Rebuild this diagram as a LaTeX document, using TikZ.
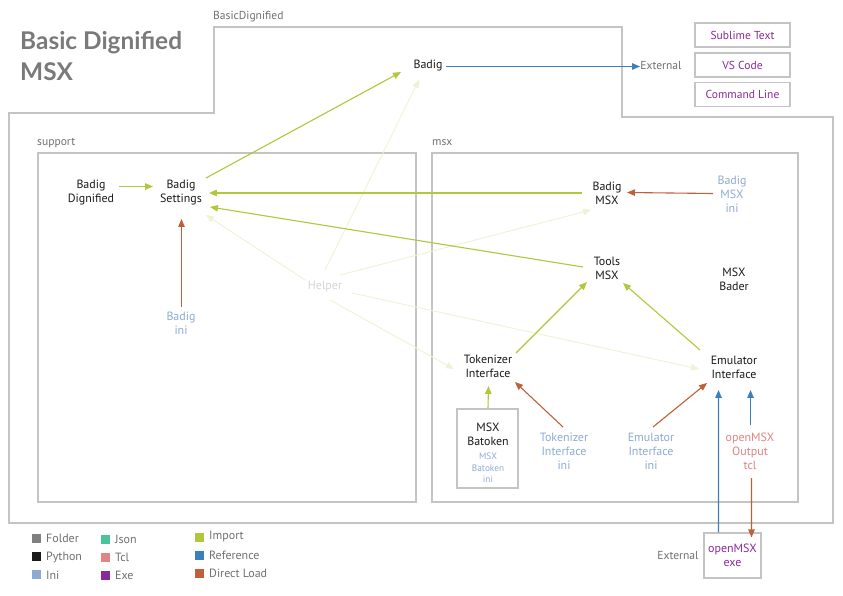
\documentclass[tikz,border=0pt]{standalone}
\usepackage{fontspec}
\setmainfont{PT Sans}
\newfontfamily\titlefont{Lato}
\usetikzlibrary{arrows.meta}
\definecolor{imp}{HTML}{B4C63A}
\definecolor{refc}{HTML}{3A80BF}
\definecolor{dload}{HTML}{C0603A}
\definecolor{inic}{HTML}{8EAAD4}
\definecolor{tclc}{HTML}{E08484}
\definecolor{exec}{HTML}{8A2A9A}
\definecolor{jsonc}{HTML}{4CC39A}
\definecolor{foldc}{HTML}{808080}
\definecolor{pyc}{HTML}{1A1A1A}
\definecolor{palec}{HTML}{EEF3D4}
\definecolor{helpc}{HTML}{D6D6D6}
\definecolor{boxc}{HTML}{C4C4C4}
\definecolor{labc}{HTML}{707070}
\definecolor{titc}{HTML}{7A7A7A}
\tikzset{
  mod/.style={align=center, inner sep=0pt, font=\fontsize{12}{14}\selectfont, text=pyc},
  ini/.style={mod, text=inic},
  tcl/.style={mod, text=tclc},
  lab/.style={inner sep=0pt, anchor=west, font=\fontsize{11.6}{13}\selectfont, text=labc},
  frame/.style={draw=boxc, line width=1.1pt},
  ebox/.style={draw=boxc, line width=1.1pt, text=exec, minimum width=95bp, minimum height=24bp, inner sep=0pt, font=\fontsize{11.6}{13}\selectfont},
  tipA/.style={-{Triangle[length=8pt,width=6.5pt]}},
  impe/.style={tipA, draw=imp, line width=1.1pt},
  refe/.style={tipA, draw=refc, line width=1.1pt},
  dle/.style={tipA, draw=dload, line width=1.1pt},
  palee/.style={tipA, draw=palec, line width=0.9pt},
  sq/.style={minimum size=9bp, inner sep=0pt},
  legt/.style={inner sep=0pt, anchor=west, font=\fontsize{12}{13}\selectfont, text=labc},
}
\begin{document}
\begin{tikzpicture}[x=1bp,y=-1bp]
\useasboundingbox[fill=white] (0,0) rectangle (843,596);
% frames
\draw[frame] (9,113) -- (214,113) -- (214,27) -- (622,27) -- (622,117) -- (833,117) -- (833,523) -- (9,523) -- cycle;
\draw[frame] (38,153) rectangle (416,502);
\draw[frame] (432,153) rectangle (798,502);
\node[lab] (lbd) at (213,17) {BasicDignified};
\node[lab] (lsup) at (37,143) {support};
\node[lab] (lmsx) at (432,143) {msx};
\node[inner sep=0pt, anchor=west, align=left, text=titc, font=\titlefont\fontsize{24.5}{32}\selectfont\bfseries] (title) at (20,56) {Basic Dignified\\MSX};
% external boxes
\node[ebox] (subl) at (742.5,35) {Sublime Text};
\node[ebox] (vsc) at (742.5,65) {VS Code};
\node[ebox] (cmdl) at (742.5,94.5) {Command Line};
% nodes
\node[mod] (badig) at (428,66) {Badig};
\node[lab, anchor=center] (ext1) at (661,66) {External};
\node[mod] (bd) at (91,193) {Badig\\Dignified};
\node[mod] (bs) at (181,193) {Badig\\Settings};
\node[ini] (badigini) at (181,323) {Badig\\ini};
\node[mod, text=helpc] (helper) at (325,287) {Helper};
\node[mod] (bmsx) at (607,193) {Badig\\MSX};
\node[ini] (bmsxini) at (732,194) {Badig\\MSX\\ini};
\node[mod] (tools) at (607,268) {Tools\\MSX};
\node[mod] (bader) at (734,279) {MSX\\Bader};
\node[mod] (tok) at (488,366) {Tokenizer\\Interface};
\node[mod] (emu) at (734,367) {Emulator\\Interface};
\node[draw=boxc, line width=1.1pt, minimum width=61bp, minimum height=79bp, inner sep=0pt] (batbox) at (487.5,448.5) {};
\node[mod] (bat) at (488,434) {MSX\\Batoken};
\node[ini, font=\fontsize{9.3}{11.5}\selectfont] (batini) at (488,468) {MSX\\Batoken\\ini};
\node[ini] (tokini) at (564,451) {Tokenizer\\Interface\\ini};
\node[ini] (emuini) at (651,451) {Emulator\\Interface\\ini};
\node[tcl] (tcl) at (750,451) {openMSX\\Output\\tcl};
\node[draw=boxc, line width=1.1pt, minimum width=57bp, minimum height=45bp, inner sep=0pt] (exebox) at (732.5,555.5) {};
\node[mod, text=exec] (exe) at (732.5,555.5) {openMSX\\exe};
\node[lab, anchor=center] (ext2) at (678,556) {External};
% helper edges
\draw[palee] ([shift={(0,-17)}]helper.center) -- ([shift={(-9,14)}]badig.center);
\draw[palee] ([shift={(-20,-7)}]helper.center) -- ([shift={(25,22)}]bs.center);
\draw[palee] ([shift={(15,-12)}]helper.center) -- ([shift={(-16,17)}]bmsx.center);
\draw[palee] ([shift={(27,6)}]helper.center) -- ([shift={(-35,2)}]emu.center);
\draw[palee] ([shift={(5,13)}]helper.center) -- ([shift={(-34,3)}]tok.center);
% edges
\draw[impe] ([shift={(28,-6.5)}]bd.center) -- ([shift={(-28,-6.5)}]bs.center);
\draw[impe] ([shift={(25,-15)}]bs.center) -- ([shift={(-27,6)}]badig.center);
\draw[refe] ([shift={(18,0.5)}]badig.center) -- ([shift={(-21,0.5)}]ext1.center);
\draw[impe, line width=1.4pt] ([shift={(-25,0)}]bmsx.center) -- ([shift={(28,0)}]bs.center);
\draw[impe] ([shift={(-24,-1)}]tools.center) -- ([shift={(29,14)}]bs.center);
\draw[dle] ([shift={(0.5,-16)}]badigini.center) -- ([shift={(0.5,26)}]bs.center);
\draw[dle] ([shift={(-19,-0.5)}]bmsxini.center) -- ([shift={(20,-0.5)}]bmsx.center);
\draw[impe] ([shift={(28,-13)}]tok.center) -- ([shift={(-20,14)}]tools.center);
\draw[impe] ([shift={(-34,-17)}]emu.center) -- ([shift={(16,15)}]tools.center);
\draw[impe] ([xshift=0.5bp]batbox.north) -- ([shift={(0.5,20)}]tok.center);
\draw[dle] ([shift={(-1,-24)}]tokini.center) -- ([shift={(27,16)}]tok.center);
\draw[dle] ([shift={(2,-24)}]emuini.center) -- ([shift={(-27,16)}]emu.center);
\draw[refe] ([xshift=-14bp]exebox.north) -- ([shift={(-15.5,23)}]emu.center);
\draw[refe] ([shift={(0.5,-26)}]tcl.center) -- ([shift={(16.5,23)}]emu.center);
\draw[dle] ([shift={(1.5,27)}]tcl.center) -- ([xshift=19bp,yshift=-5bp]exebox.north);
% legend
\node[sq, fill=foldc] (s1) at (36.5,538) {};
\node[legt] (t1) at (46,538) {Folder};
\node[sq, fill=pyc] (s2) at (36.5,556) {};
\node[legt] (t2) at (46,557) {Python};
\node[sq, fill=inic] (s3) at (36.5,574) {};
\node[legt] (t3) at (46,575) {Ini};
\node[sq, fill=jsonc] (s4) at (105.5,539) {};
\node[legt] (t4) at (115,539) {Json};
\node[sq, fill=tclc] (s5) at (105.5,557) {};
\node[legt] (t5) at (115,557) {Tcl};
\node[sq, fill=exec] (s6) at (105.5,575) {};
\node[legt] (t6) at (115,575) {Exe};
\node[sq, fill=imp] (s7) at (199.5,537) {};
\node[legt] (t7) at (209,537) {Import};
\node[sq, fill=refc] (s8) at (199.5,555) {};
\node[legt] (t8) at (209,555) {Reference};
\node[sq, fill=dload] (s9) at (199.5,573) {};
\node[legt] (t9) at (209,573) {Direct Load};
\end{tikzpicture}
\end{document}
